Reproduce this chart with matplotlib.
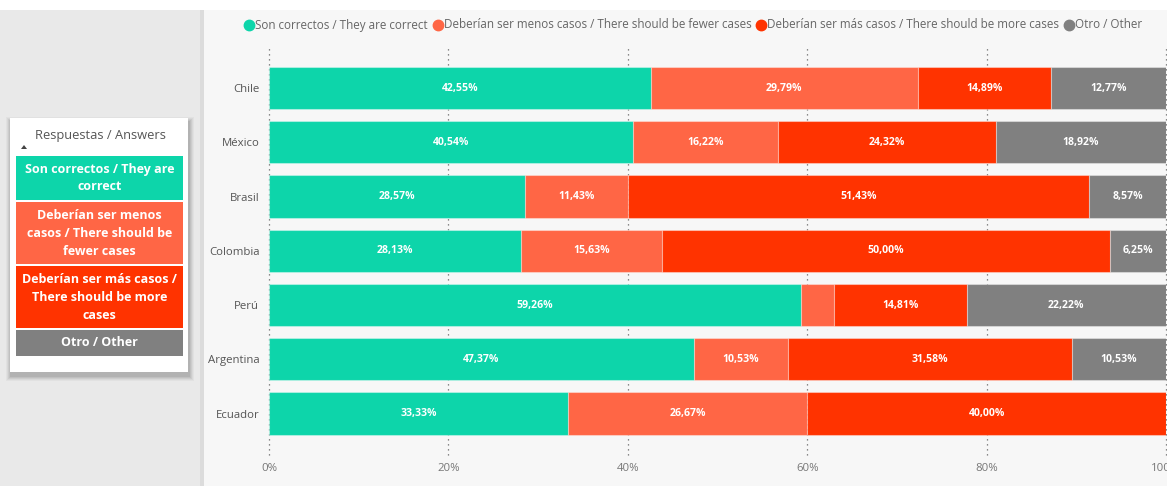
import matplotlib
matplotlib.use("Agg")
import matplotlib.pyplot as plt
from matplotlib.patches import Rectangle, Polygon
from matplotlib.lines import Line2D
import numpy as np

plt.rcParams["font.family"] = ["Open Sans", "DejaVu Sans"]

countries = ["Chile", "México", "Brasil", "Colombia", "Perú", "Argentina", "Ecuador"]
series_names = [
    "Son correctos / They are correct",
    "Deberían ser menos casos / There should be fewer cases",
    "Deberían ser más casos / There should be more cases",
    "Otro / Other",
]
card_labels = [
    "Son correctos / They are\ncorrect",
    "Deberían ser menos\ncasos / There should be\nfewer cases",
    "Deberían ser más casos /\nThere should be more\ncases",
    "Otro / Other",
]
correct = [42.55, 40.54, 28.57, 28.13, 59.26, 47.37, 33.33]
fewer = [29.79, 16.22, 11.43, 15.63, 3.70, 10.53, 26.67]
more = [14.89, 24.32, 51.43, 50.00, 14.81, 31.58, 40.00]
other = [12.77, 18.92, 8.57, 6.25, 22.22, 10.53, 0.00]
x_ticks = [0, 20, 40, 60, 80, 100]
x_tick_labels = ["0%", "20%", "40%", "60%", "80%", "100%"]
colors = ["#0DD5AA", "#FF6645", "#FF3300", "#808080"]

W, H = 1167, 486
fig = plt.figure(figsize=(W / 100, H / 100), dpi=100)
fig.patch.set_facecolor("white")


def fx(px):
    return px / W


def fy(py):
    return 1 - py / H


def frect(x0, y0, x1, y1, **kw):
    fig.patches.append(Rectangle((fx(x0), fy(y1)), fx(x1 - x0), (y1 - y0) / H,
                                 transform=fig.transFigure, **kw))


# background panels
frect(0, 10, 200, 486, facecolor="#E9E9E9", edgecolor="none", zorder=-5)
frect(200, 10, 204, 486, facecolor="#DCDCDC", edgecolor="none", zorder=-5)
frect(204, 10, 1167, 486, facecolor="#F7F7F7", edgecolor="none", zorder=-5)

# legend card with soft shadow
for i, a in enumerate([0.03, 0.04, 0.05, 0.06, 0.07]):
    d = 5 - i
    frect(10 - d + 1, 118 - d + 4, 188 + d + 1, 372 + d + 4,
          facecolor="black", alpha=a, edgecolor="none", zorder=1)
frect(10, 118, 188, 372, facecolor="white", edgecolor="none", zorder=2)
fig.text(fx(100), fy(135), "Respuestas / Answers", ha="center", va="center",
         fontsize=9.3, color="#555555", zorder=3)
fig.patches.append(Polygon([[fx(21), fy(149)], [fx(27), fy(149)], [fx(24), fy(145)]],
                           closed=True, transform=fig.transFigure,
                           facecolor="#444444", edgecolor="none", zorder=3))
boxes = [(156, 200), (202, 264), (266, 328), (330, 356)]
for (y0, y1), c, lab in zip(boxes, colors, card_labels):
    frect(16, y0, 183, y1, facecolor=c, edgecolor="none", zorder=3)
    fig.text(fx(99.5), fy((y0 + y1) / 2), lab, ha="center", va="center",
             fontsize=9.0, color="white", fontweight="bold", zorder=4,
             linespacing=1.5)

# main chart axes
ax = fig.add_axes([fx(269), fy(455), fx(1166) - fx(269), (455 - 47) / H])
ax.set_zorder(3)
ax.set_facecolor("none")
ax.set_xlim(0, 100)
ax.set_ylim(6.765, -0.756)
y = np.arange(len(countries))
left = np.zeros(len(countries))
for vals, c in zip([correct, fewer, more, other], colors):
    vals = np.array(vals)
    ax.barh(y, vals, left=left, height=0.775, color=c,
            edgecolor=(1, 1, 1, 0.35), linewidth=0.8, zorder=2)
    for yi, l, v in zip(y, left, vals):
        if v >= 5:
            ax.text(l + v / 2, yi, f"{v:.2f}".replace(".", ",") + "%",
                    ha="center", va="center", color="white",
                    fontsize=7.6, fontweight="bold", zorder=3)
    left = left + vals

for xt in x_ticks:
    ax.axvline(xt, color="#666666", linestyle=(0, (1, 3)), linewidth=0.9,
               zorder=1, clip_on=False)

for s in ax.spines.values():
    s.set_visible(False)
ax.set_yticks(y)
ax.set_yticklabels(countries, fontsize=8.2, color="#555555")
ax.set_xticks(x_ticks)
ax.set_xticklabels(x_tick_labels, fontsize=8.2, color="#777777")
ax.tick_params(axis="both", length=0)
ax.tick_params(axis="y", pad=7)
ax.tick_params(axis="x", pad=6)

# top legend, laid out left to right
fig.canvas.draw()
renderer = fig.canvas.get_renderer()
xcur = 244
for name, c in zip(series_names, colors):
    fig.add_artist(Line2D([fx(xcur + 5)], [fy(25)], marker="o", markersize=7.5,
                          color=c, linestyle="none",
                          transform=fig.transFigure, zorder=5))
    t = fig.text(fx(xcur + 11), fy(25), name, ha="left", va="center",
                 fontsize=8.4, color="#666666", zorder=5)
    bb = t.get_window_extent(renderer)
    xcur = xcur + 11 + bb.width + 5

fig.savefig("out.png", dpi=100, facecolor=fig.get_facecolor())
